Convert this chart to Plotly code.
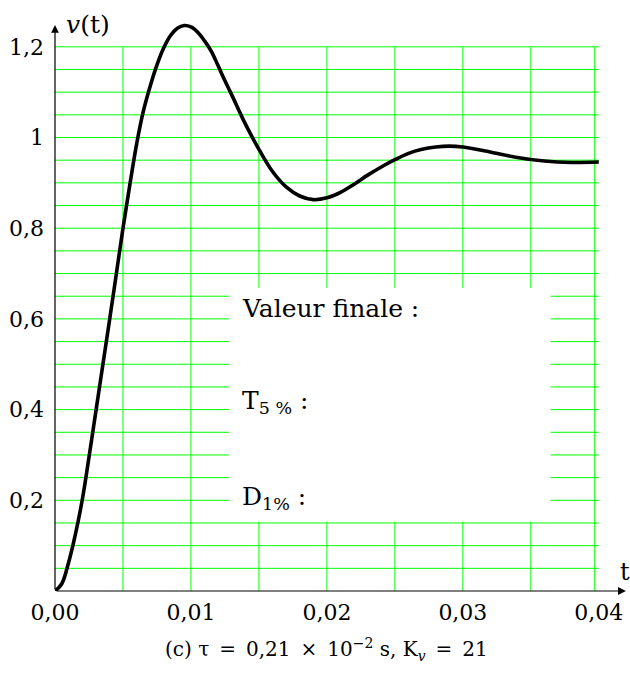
import plotly.graph_objects as go

# ---- data ----
t_vals = [0, 0.0005, 0.001, 0.0015, 0.002, 0.0025, 0.003, 0.0035, 0.004, 0.0045,
          0.005, 0.0055, 0.006, 0.0065, 0.007, 0.0075, 0.008, 0.0085, 0.009, 0.0095,
          0.010, 0.0105, 0.011, 0.0115, 0.012, 0.0125, 0.013, 0.014, 0.015, 0.016,
          0.017, 0.018, 0.019, 0.020, 0.021, 0.022, 0.023, 0.024, 0.025, 0.026,
          0.027, 0.028, 0.029, 0.030, 0.032, 0.034, 0.036, 0.038, 0.040]
v_vals = [0, 0.016, 0.063, 0.125, 0.2, 0.295, 0.395, 0.495, 0.595, 0.697,
          0.8, 0.895, 0.985, 1.058, 1.113, 1.16, 1.198, 1.225, 1.241, 1.247,
          1.244, 1.232, 1.213, 1.19, 1.158, 1.125, 1.094, 1.03, 0.974, 0.925,
          0.891, 0.871, 0.863, 0.867, 0.879, 0.897, 0.917, 0.935, 0.951, 0.965,
          0.974, 0.979, 0.981, 0.979, 0.968, 0.956, 0.948, 0.945, 0.946]

x_tick_vals = [0, 0.01, 0.02, 0.03, 0.04]
x_tick_text = ["0,00", "0,01", "0,02", "0,03", "0,04"]
y_tick_vals = [0.2, 0.4, 0.6, 0.8, 1.0, 1.2]
y_tick_text = ["0,2", "0,4", "0,6", "0,8", "1", "1,2"]

grid_x = [0.005 * i for i in range(1, 8)]
grid_y = [0.05 * i for i in range(1, 25)]
grid_x_end = 0.0397
grid_t_end = 0.04
grid_v_top = 1.2

FONT = "DejaVu Serif"
GREEN = "rgb(0,255,0)"

fig = go.Figure()
fig.add_trace(go.Scatter(x=t_vals, y=v_vals, mode="lines",
                         line=dict(color="black", width=3.6, shape="spline", smoothing=1.0),
                         hoverinfo="skip", showlegend=False))

shapes = []
for gx in grid_x + [grid_x_end]:
    shapes.append(dict(type="line", xref="x", yref="y", x0=gx, x1=gx, y0=0, y1=grid_v_top,
                       line=dict(color=GREEN, width=1), layer="below"))
for gy in grid_y:
    shapes.append(dict(type="line", xref="x", yref="y", x0=0, x1=grid_t_end, y0=gy, y1=gy,
                       line=dict(color=GREEN, width=1), layer="below"))
# white answer box
shapes.append(dict(type="rect", xref="x", yref="y", x0=0.0128, x1=0.03645, y0=0.153, y1=0.668,
                   fillcolor="white", line=dict(width=0), layer="below"))

EN = "\u2002"
annotations = [
    # axes arrows
    dict(x=0.04199, y=0, ax=0, ay=0, xref="x", yref="y", axref="x", ayref="y", text="",
         showarrow=True, arrowhead=2, arrowsize=1.3, arrowwidth=1.2, arrowcolor="black"),
    dict(x=0, y=1.248, ax=0, ay=0, xref="x", yref="y", axref="x", ayref="y", text="",
         showarrow=True, arrowhead=2, arrowsize=1.3, arrowwidth=1.2, arrowcolor="black"),
    # axis names
    dict(x=0.00243, y=1.250, xref="x", yref="y", text="<i>v</i>(t)", showarrow=False,
         xanchor="center", yanchor="middle", font=dict(family=FONT, size=25, color="black")),
    dict(x=0.04195, y=0.042, xref="x", yref="y", text="t", showarrow=False,
         xanchor="center", yanchor="middle", font=dict(family=FONT, size=24, color="black")),
    # box texts
    dict(x=0.01358, y=0.622, xref="x", yref="y", text="Valeur finale :", showarrow=False,
         xanchor="left", yanchor="middle", font=dict(family=FONT, size=25, color="black")),
    dict(x=0.01358, y=0.417, xref="x", yref="y", text="T<sub>5 %</sub> :", showarrow=False,
         xanchor="left", yanchor="middle", font=dict(family=FONT, size=25, color="black")),
    dict(x=0.01358, y=0.205, xref="x", yref="y", text="D<sub>1%</sub> :", showarrow=False,
         xanchor="left", yanchor="middle", font=dict(family=FONT, size=25, color="black")),
    # caption
    dict(x=0.02, y=-0.1033, xref="x", yref="paper",
         text=("(c) τ" + EN + "=" + EN + "0,21" + EN + "×" + EN + "10<sup>−2</sup> s, K<sub><i>v</i></sub>"
               + EN + "=" + EN + "21"),
         showarrow=False, xanchor="center", yanchor="middle",
         font=dict(family=FONT, size=20, color="black")),
]

fig.update_layout(
    width=630, height=675,
    margin=dict(l=55, r=4, t=20, b=84, pad=0),
    paper_bgcolor="white", plot_bgcolor="white",
    shapes=shapes, annotations=annotations,
    font=dict(family=FONT, size=22, color="black"),
    xaxis=dict(range=[0, 0.042], showgrid=False, zeroline=False, showline=False,
               tickvals=x_tick_vals, ticktext=x_tick_text, ticks="", ticklabelstandoff=6,
               tickfont=dict(family=FONT, size=22, color="black"), automargin=False,
               fixedrange=True),
    yaxis=dict(range=[0, 1.2591], showgrid=False, zeroline=False, showline=False,
               tickvals=y_tick_vals, ticktext=y_tick_text, ticks="", ticklabelstandoff=10,
               tickfont=dict(family=FONT, size=22, color="black"), automargin=False,
               fixedrange=True),
)

fig.write_html("out.html", config={"displayModeBar": False},
               post_script="document.body.style.margin='0px';document.body.style.padding='0px';")
